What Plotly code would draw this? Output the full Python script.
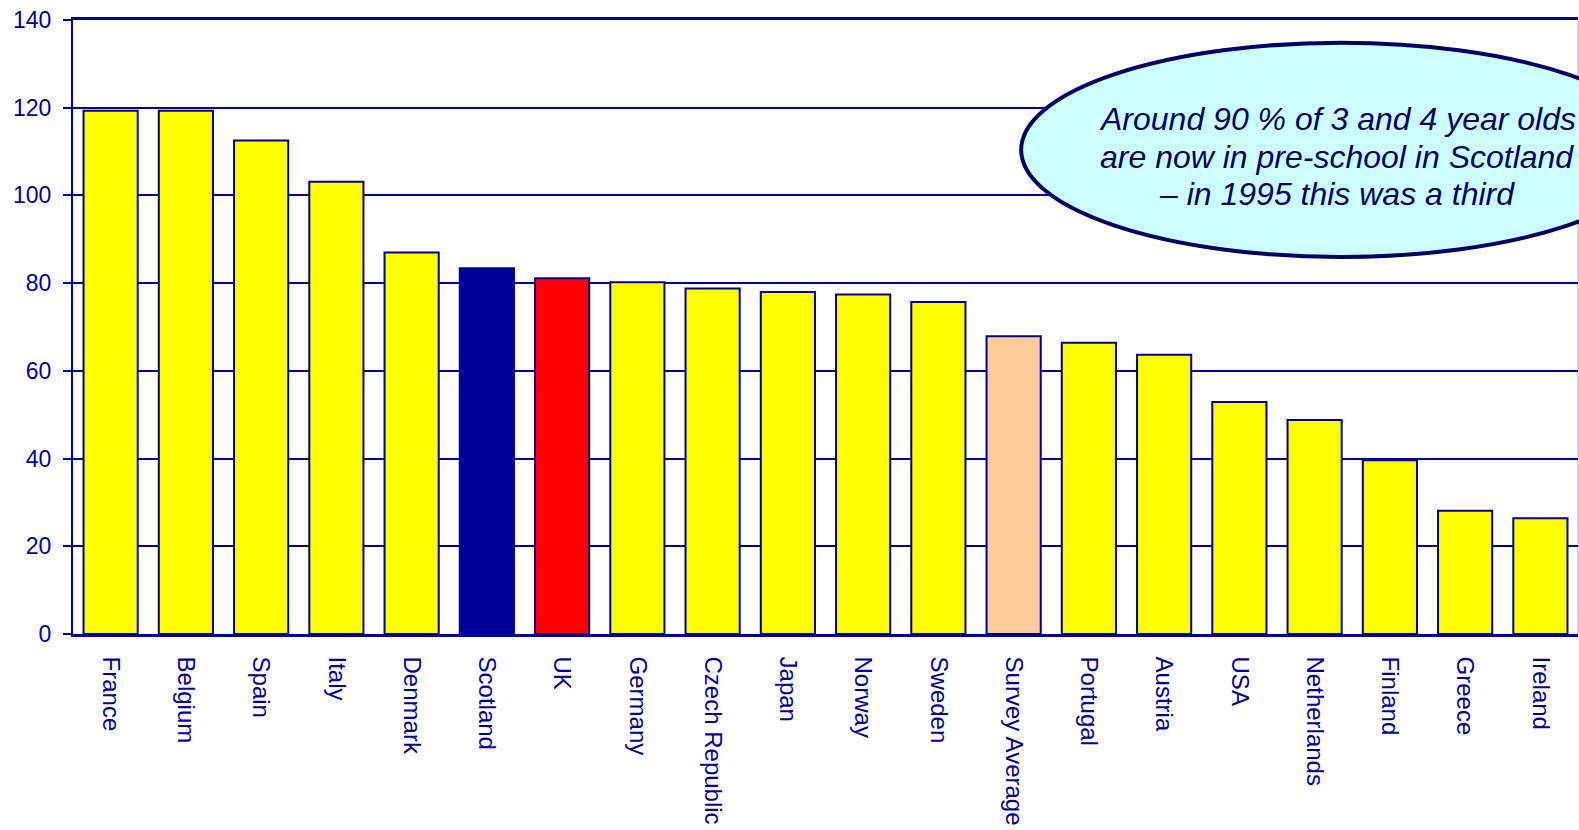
import plotly.graph_objects as go

countries = ["France", "Belgium", "Spain", "Italy", "Denmark", "Scotland", "UK",
             "Germany", "Czech Republic", "Japan", "Norway", "Sweden", "Survey Average",
             "Portugal", "Austria", "USA", "Netherlands", "Finland", "Greece", "Ireland"]
values = [119.3, 119.3, 112.5, 103.1, 87.0, 83.4, 81.1, 80.2, 78.8, 78.0, 77.4,
          75.7, 67.9, 66.4, 63.7, 52.9, 48.8, 39.6, 28.1, 26.4]
highlight = {"Scotland": "#000099", "UK": "#FF0000", "Survey Average": "#FFCC99"}
bar_colors = [highlight.get(c, "#FFFF00") for c in countries]
y_ticks = [0, 20, 40, 60, 80, 100, 120, 140]
note_lines = ["Around 90 % of 3 and 4 year olds",
              "are now in pre-school in Scotland",
              "– in 1995 this was a third"]

NAVY = "#000099"
FONT = "Liberation Sans, Arial, sans-serif"

fig = go.Figure(go.Bar(
    x=countries, y=values,
    marker=dict(color=bar_colors, line=dict(color="#00008B", width=2)),
    width=0.72,
))

fig.update_layout(
    width=1579, height=830,
    margin=dict(l=73, r=1, t=20, b=196),
    paper_bgcolor="white", plot_bgcolor="white",
    showlegend=False,
    font=dict(family=FONT, color=NAVY, size=23),
)
fig.update_yaxes(
    range=[0, 140], tickvals=y_ticks, showgrid=True, gridcolor=NAVY, gridwidth=1.5,
    showline=True, linecolor=NAVY, linewidth=2, ticks="outside", ticklen=8,
    tickcolor=NAVY, tickwidth=2, tickfont=dict(size=23, color=NAVY, family=FONT),
    zeroline=False, ticklabelstandoff=7,
)
fig.update_xaxes(
    tickangle=90, showline=True, linecolor=NAVY, linewidth=2.5, ticks="", mirror=True,
    tickfont=dict(size=24, color=NAVY, family=FONT), showgrid=False,
    ticklabelstandoff=15,
)

fig.add_shape(type="line", xref="paper", yref="paper", x0=1, x1=1, y0=0, y1=1,
              line=dict(color="#A0A0E0", width=1), layer="below")
fig.add_shape(type="circle", xref="paper", yref="paper",
              x0=0.630, x1=1.055, y0=0.614, y1=0.963,
              fillcolor="#CCFFFF", line=dict(color="#000066", width=4), layer="above")
for line_text, ypos in zip(note_lines, [0.839, 0.777, 0.716]):
    fig.add_annotation(xref="paper", yref="paper", x=0.840, y=ypos,
                       xanchor="center", yanchor="middle",
                       text=line_text, showarrow=False, align="center",
                       font=dict(family=FONT, size=32, color="#000066", style="italic"))

fig.write_html("out.html", config={"displayModeBar": False},
               post_script="document.body.style.margin='0px';document.body.style.overflow='hidden';")
